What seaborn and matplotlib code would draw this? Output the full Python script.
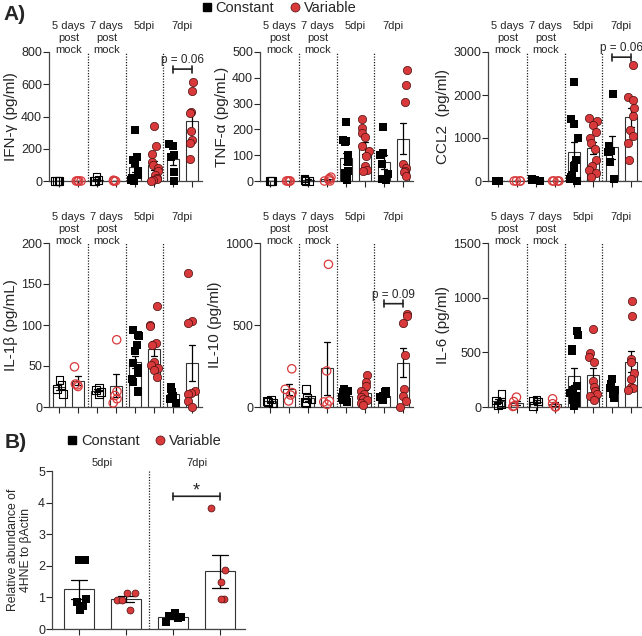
import numpy as np
import pandas as pd
import matplotlib
matplotlib.use("Agg")
import matplotlib.pyplot as plt
from matplotlib.lines import Line2D
import seaborn as sns

# --- Data ---
GROUPS_A = ["5 days\npost\nmock", "7 days\npost\nmock", "5dpi", "7dpi"]
GROUPS_B = ["5dpi", "7dpi"]
SERIES = ["Constant", "Variable"]

# IFN-gamma (pg/ml), one list per group
ifng_constant = [[0, 0, 0, 0], [0, 5, 25, 0],
                 [315, 150, 130, 110, 60, 40, 20, 10, 5, 0],
                 [229, 218, 160, 150, 58, 0]]
ifng_variable = [[0, 0, 0, 0], [0, 0, 5, 0],
                 [340, 220, 165, 120, 100, 80, 60, 40, 20, 10, 5, 0],
                 [615, 560, 430, 420, 310, 255, 235, 135]]

# TNF-alpha (pg/mL)
tnf_constant = [[0, 0, 0], [0, 5, 10, 0],
                [230, 160, 155, 150, 100, 80, 75, 40, 30, 15, 10, 2],
                [211, 107, 100, 64, 27, 9, 2]]
tnf_variable = [[0, 0, 0, 0], [0, 5, 10, 15, 0],
                [240, 205, 185, 170, 135, 115, 95, 60, 42, 40],
                [429, 371, 307, 64, 52, 39, 33, 20]]

# CCL2 (pg/ml)
ccl2_constant = [[0, 0, 0, 0], [0, 20, 50, 30],
                 [2300, 1440, 1330, 1000, 480, 350, 300, 150, 100, 50, 0],
                 [2030, 815, 700, 680, 440, 40]]
ccl2_variable = [[0, 0, 0, 0], [0, 0, 0, 0],
                 [1460, 1400, 1300, 1150, 1000, 880, 740, 500, 350, 250, 180, 100],
                 [2704, 1956, 1889, 1704, 1519, 1185, 1037, 889, 481]]

# IL-1beta (pg/mL)
il1b_constant = [[33, 27, 22, 16], [24, 21, 18, 16],
                 [94, 88, 86, 76, 68, 54, 48, 42, 34, 30, 20, 18],
                 [25, 22, 18, 14, 10, 5]]
il1b_variable = [[49, 28, 27, 25], [82, 19, 14, 10, 5],
                 [123, 100, 99, 78, 76, 55, 51, 47, 45, 37],
                 [163, 105, 102, 20, 17, 16, 7, 0]]

# IL-10 (pg/ml)
il10_constant = [[45, 38, 30, 25], [110, 55, 45, 25, 30],
                 [110, 100, 90, 80, 70, 65, 60, 55, 50, 40, 30],
                 [100, 90, 80, 70, 60, 50, 40]]
il10_variable = [[233, 108, 88, 73, 37], [870, 220, 37, 31, 16],
                 [196, 153, 129, 98, 78, 60, 47, 41, 27, 10],
                 [567, 557, 510, 316, 108, 67, 37, 0]]

# IL-6 (pg/ml)
il6_constant = [[120, 60, 45, 30, 15], [70, 60, 50, 10],
                [695, 660, 535, 510, 190, 160, 130, 100, 65, 35, 10],
                [260, 210, 175, 160, 115, 80]]
il6_variable = [[90, 50, 10, 5], [75, 30, 5, 0],
                [711, 490, 459, 412, 239, 186, 145, 123, 97, 60],
                [969, 830, 443, 412, 311, 255, 186, 176, 160]]

# 4HNE / beta-actin
hne_constant = [[2.19, 2.19, 0.96, 0.87, 0.74, 0.59], [0.50, 0.40, 0.38, 0.35, 0.21]]
hne_variable = [[1.14, 1.14, 0.93, 0.93, 0.61], [3.82, 1.87, 1.50, 0.96, 0.96]]

RED = "#d8393b"
DARK_RED = "#4a1010"
BAR_EDGE = "#333333"
W, H = 642, 636


def tidy(groups, constant, variable):
    rows = []
    for g, c_vals, v_vals in zip(groups, constant, variable):
        for s, vals in zip(SERIES, (c_vals, v_vals)):
            for v in vals:
                rows.append({"cat": f"{g}|{s}", "series": s,
                             "mock": "mock" in g, "value": v})
    return pd.DataFrame(rows)


def draw(ax, groups, constant, variable, fill_mock_const=False,
         sq=5.5, circ=6.0, jitter=0.22):
    df = tidy(groups, constant, variable)
    order = [f"{g}|{s}" for g in groups for s in SERIES]
    sns.barplot(data=df, x="cat", y="value", order=order, errorbar="se",
                width=0.65, color="white", edgecolor=BAR_EDGE, linewidth=0.8,
                capsize=0.35, err_kws={"color": "black", "linewidth": 0.9},
                ax=ax)
    for (series, mock), sub in df.groupby(["series", "mock"]):
        if series == "Constant":
            if mock and not fill_mock_const:
                kw = dict(marker="s", size=sq, color="black",
                          facecolors="none", edgecolor="black", linewidth=0.8)
            else:
                kw = dict(marker="s", size=sq, color="black",
                          edgecolor="black", linewidth=0)
        else:
            if mock:
                kw = dict(marker="o", size=circ, color=RED,
                          facecolors="none", edgecolor=RED, linewidth=0.9)
            else:
                kw = dict(marker="o", size=circ, color=RED,
                          edgecolor=DARK_RED, linewidth=0.5)
        sns.stripplot(data=sub, x="cat", y="value", order=order,
                      jitter=jitter, ax=ax, **kw)
    # drop empty scatter collections, let the rest spill over the axis line
    for coll in list(ax.collections):
        if len(coll.get_offsets()) == 0:
            coll.remove()
        else:
            coll.set_clip_on(False)
    for gi in range(1, len(groups)):
        ax.axvline(2 * gi - 0.5, ls=(0, (1, 1.2)), color="#222222", lw=0.9,
                   zorder=0)
    ax.set_xticks(range(len(order)))
    ax.set_xticklabels([])
    ax.set_xlabel("")
    ax.tick_params(axis="x", length=4, width=0.8)
    ax.tick_params(axis="y", length=4, width=0.8, labelsize=9, pad=1)
    for side in ("top", "right"):
        ax.spines[side].set_visible(False)
    for side in ("left", "bottom"):
        ax.spines[side].set_color("#444444")
        ax.spines[side].set_linewidth(0.9)


def group_labels(ax, groups, offset, va="top"):
    for gi, g in enumerate(groups):
        ax.annotate(g, xy=(2 * gi + 0.5, 1), xycoords=("data", "axes fraction"),
                    xytext=(0, offset), textcoords="offset points",
                    ha="center", va=va, fontsize=8, annotation_clip=False)


def bracket(ax, x1, x2, y, text, fontsize=8.5, offset=2):
    ax.annotate("", xy=(x1, y), xytext=(x2, y), annotation_clip=False,
                arrowprops=dict(arrowstyle="|-|, widthA=0.25, widthB=0.25",
                                lw=1.2, color="#222222",
                                shrinkA=0, shrinkB=0))
    ax.annotate(text, xy=((x1 + x2) / 2, y), xytext=(0, offset),
                textcoords="offset points", ha="center", va="bottom",
                fontsize=fontsize, annotation_clip=False)


def px_axes(fig, left, top, right, bottom):
    return fig.add_axes([left / W, 1 - bottom / H, (right - left) / W,
                         (bottom - top) / H])


sns.set_style("ticks")
plt.rcParams["font.family"] = ["Liberation Sans", "DejaVu Sans"]
np.random.seed(3)

fig = plt.figure(figsize=(W / 100, H / 100), dpi=100)

panels = [
    ("IFN-γ (pg/ml)", ifng_constant, ifng_variable, [0, 200, 400, 600, 800], False),
    ("TNF-α (pg/mL)", tnf_constant, tnf_variable, [0, 100, 200, 300, 400, 500], False),
    ("CCL2  (pg/ml)", ccl2_constant, ccl2_variable, [0, 1000, 2000, 3000], True),
    ("IL-1β (pg/mL)", il1b_constant, il1b_variable, [0, 50, 100, 150, 200], False),
    ("IL-10 (pg/ml)", il10_constant, il10_variable, [0, 500, 1000], False),
    ("IL-6 (pg/ml)", il6_constant, il6_variable, [0, 500, 1000, 1500], False),
]
lefts = [49, 260, 488]
rows = [(52, 181), (243, 407)]

axes = []
for i, (label, const, var, ticks, fill_mock) in enumerate(panels):
    top, bottom = rows[i // 3]
    left = lefts[i % 3]
    ax = px_axes(fig, left, top, left + 153, bottom)
    draw(ax, GROUPS_A, const, var, fill_mock_const=fill_mock)
    ax.set_xlim(-0.53, 7.53)
    ax.set_ylim(0, ticks[-1])
    ax.set_yticks(ticks)
    ax.set_ylabel(label, fontsize=11, labelpad=2)
    group_labels(ax, GROUPS_A, 22)
    axes.append(ax)

axes[2].axhline(0, ls=(0, (1, 1.2)), color="#222222", lw=1, zorder=0)
bracket(axes[0], 6, 7, 694, "p = 0.06")
bracket(axes[2], 6, 7, 2880, "p = 0.06")
bracket(axes[4], 6, 7, 630, "p = 0.09")

# Panel B
axb = px_axes(fig, 52, 471, 245, 629)
draw(axb, GROUPS_B, hne_constant, hne_variable, sq=5.2, circ=5.0, jitter=0.2)
axb.set_xlim(-0.57, 3.53)
axb.set_ylim(0, 5)
axb.set_yticks([0, 1, 2, 3, 4, 5])
axb.set_ylabel("Relative abundance of\n4HNE to βActin", fontsize=8.8,
               labelpad=4)
group_labels(axb, GROUPS_B, 6, va="center")
bracket(axb, 2, 3, 4.2, "*", fontsize=13, offset=-2)

# Legends and panel letters
handles = [Line2D([], [], marker="s", ls="none", color="black", markersize=6),
           Line2D([], [], marker="o", ls="none", markerfacecolor=RED,
                  markeredgecolor=DARK_RED, markeredgewidth=0.5, markersize=6.5)]
for cx, cy in [(278, 8), (143, 441)]:
    fig.legend(handles, SERIES, loc="center", bbox_to_anchor=(cx / W, 1 - cy / H),
               ncol=2, frameon=False, fontsize=10.5, handletextpad=0.1,
               columnspacing=0.9, handlelength=1.0, borderpad=0)

fig.text(3 / W, 1 - 15 / H, "A)", fontsize=15, fontweight="bold", va="center")
fig.text(5 / W, 1 - 442 / H, "B)", fontsize=15, fontweight="bold", va="center")

fig.savefig("out.png", dpi=100)
